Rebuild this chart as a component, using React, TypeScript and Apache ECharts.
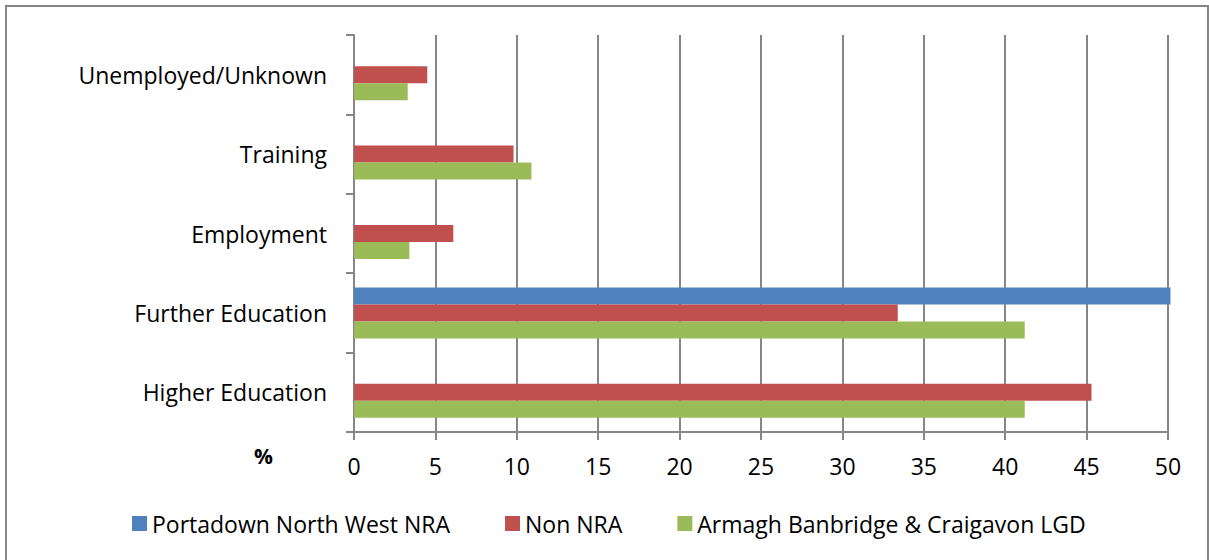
import React, { useEffect, useRef } from "react";
import * as echarts from "echarts";

const categories = ["Higher Education", "Further Education", "Employment", "Training", "Unemployed/Unknown"];
const seriesNames = ["Portadown North West NRA", "Non NRA", "Armagh Banbridge & Craigavon LGD"];
const portadown = [0, 50.15, 0, 0, 0];
const nonNra = [45.3, 33.4, 6.1, 9.8, 4.5];
const lgd = [41.2, 41.2, 3.4, 10.9, 3.3];
const colors = ["#4f81bd", "#c0504d", "#9bbb59"];
const xTicks = { min: 0, max: 50, interval: 5 };

const FONT = "Open Sans";

export default function App() {
  const ref = useRef<HTMLDivElement>(null);
  useEffect(() => {
    document.body.style.margin = "0";
    const chart = echarts.init(ref.current!, null, { renderer: "svg" });
    const values = [portadown, nonNra, lgd];
    chart.setOption({
      animation: false,
      backgroundColor: "#ffffff",
      textStyle: { fontFamily: FONT },
      grid: { left: 354, right: 41, top: 35, bottom: 128, containLabel: false },
      legend: {
        left: 127,
        top: 507,
        itemWidth: 15,
        itemHeight: 15,
        itemGap: 55,
        icon: "rect",
        textStyle: { fontFamily: FONT, fontSize: 23, color: "#000" },
        data: seriesNames,
      },
      xAxis: {
        type: "value",
        min: xTicks.min,
        max: xTicks.max,
        interval: xTicks.interval,
        axisLine: { show: true, lineStyle: { color: "#868686", width: 2 } },
        axisTick: { show: true, length: 8, lineStyle: { color: "#868686", width: 2 } },
        splitLine: { show: true, lineStyle: { color: "#868686", width: 2 } },
        axisLabel: { fontFamily: FONT, fontSize: 23, color: "#000", margin: 22 },
      },
      yAxis: {
        type: "category",
        data: categories,
        axisLine: { show: true, lineStyle: { color: "#868686", width: 2 } },
        axisTick: { show: true, length: 8, lineStyle: { color: "#868686", width: 2 } },
        axisLabel: { fontFamily: FONT, fontSize: 23, color: "#000", margin: 27 },
      },
      series: values.map((v, i) => ({
        name: seriesNames[i],
        type: "bar",
        data: v,
        barWidth: 17,
        barGap: "0%",
        clip: false,
        itemStyle: { color: colors[i] },
      })),
      graphic: [
        {
          type: "rect",
          shape: { x: 6, y: 6, width: 1202, height: 570 },
          style: { fill: "none", stroke: "#868686", lineWidth: 2 },
          silent: true,
        },
        {
          type: "text",
          left: 254,
          top: 445,
          style: { text: "%", font: `bold 21px '${FONT}'`, fill: "#000" },
        },
      ],
    });
    return () => chart.dispose();
  }, []);
  return <div ref={ref} style={{ width: 1209, height: 560, position: "fixed", left: 0, top: 0 }} />;
}
